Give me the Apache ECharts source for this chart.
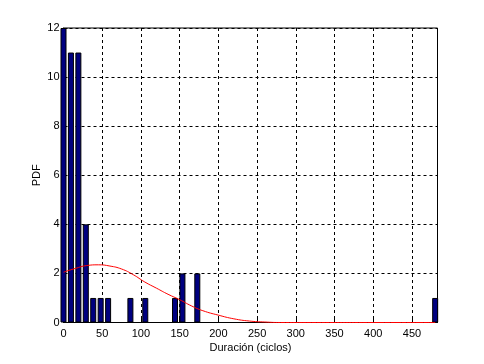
<!DOCTYPE html>
<html>
<head>
<meta charset="utf-8">
<script src="https://cdn.jsdelivr.net/npm/echarts@6/dist/echarts.min.js"></script>
<style>html,body{margin:0;padding:0;background:#fff}#c{width:484px;height:364px}</style>
</head>
<body>
<div id="c"></div>
<script>
// Histogram bin centres and counts
var binCenters = [0, 9.6, 19.2, 28.8, 38.4, 48, 57.6, 86.4, 105.6, 144, 153.6, 172.8, 480];
var counts     = [12, 11, 11, 4, 1, 1, 1, 1, 1, 1, 2, 2, 1];
// Fitted curve
var curveX = [0, 15, 30, 45, 60, 75, 90, 105, 120, 135, 150, 165, 180, 200, 220, 240, 260, 280, 320, 400, 480];
var curveY = [2.05, 2.2, 2.32, 2.35, 2.3, 2.18, 1.95, 1.65, 1.4, 1.15, 0.93, 0.68, 0.48, 0.3, 0.15, 0.06, 0.02, 0, 0, 0, 0];
var xTitle = 'Duración (ciclos)';
var yTitle = 'PDF';

var font = 'Liberation Sans, Arial, sans-serif';
var chart = echarts.init(document.getElementById('c'), null, {renderer: 'canvas'});
chart.setOption({
  animation: false,
  backgroundColor: '#fff',
  grid: {left: 63.5, right: 46.5, top: 28, bottom: 41.5, show: true, borderColor: '#000', borderWidth: 1, backgroundColor: '#fff', containLabel: false},
  xAxis: {
    type: 'value', min: 0, max: 483, interval: 50,
    name: xTitle, nameLocation: 'middle', nameGap: 20, nameMoveOverlap: false,
    nameTextStyle: {fontFamily: font, fontSize: 11, color: '#000'},
    axisLine: {show: true, onZero: false, lineStyle: {color: '#000', width: 1}},
    axisTick: {show: true, inside: true, length: 4, lineStyle: {color: '#000'}},
    axisLabel: {fontFamily: font, fontSize: 11, color: '#000', margin: 6, showMaxLabel: false},
    splitLine: {show: true, lineStyle: {color: '#000', type: [3, 3], width: 1}}
  },
  yAxis: {
    type: 'value', min: 0, max: 12, interval: 2,
    name: yTitle, nameLocation: 'middle', nameGap: 21, nameMoveOverlap: false,
    nameTextStyle: {fontFamily: font, fontSize: 11, color: '#000'},
    axisLine: {show: true, lineStyle: {color: '#000', width: 1}},
    axisTick: {show: true, inside: true, length: 4, lineStyle: {color: '#000'}},
    axisLabel: {fontFamily: font, fontSize: 11, color: '#000', margin: 4},
    splitLine: {show: true, lineStyle: {color: '#000', type: [3, 3], width: 1}}
  },
  series: [
    {
      type: 'bar', barWidth: 6, clip: true,
      data: binCenters.map(function (x, i) { return [x, counts[i]]; }),
      itemStyle: {color: '#000080', borderColor: '#000', borderWidth: 1}
    },
    {
      type: 'line', smooth: true, symbol: 'none', clip: true,
      data: curveX.map(function (x, i) { return [x, curveY[i]]; }),
      lineStyle: {color: '#ff0000', width: 1}
    }
  ]
});
</script>
</body>
</html>
